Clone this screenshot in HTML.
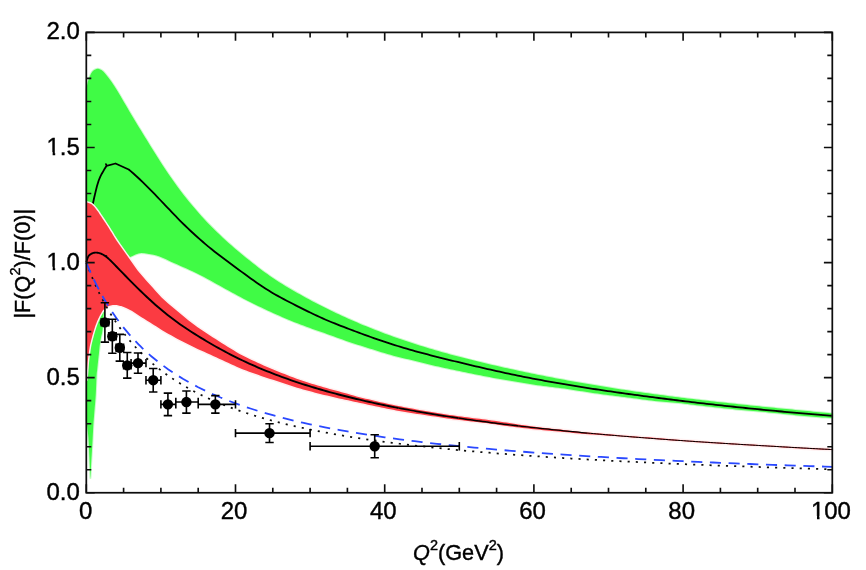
<!DOCTYPE html>
<html lang="en">
<head>
<meta charset="utf-8">
<title>Form factor plot</title>
<style>
html,body{margin:0;padding:0;background:#fff;}
body{width:866px;height:570px;overflow:hidden;}
svg{display:block;}
</style>
</head>
<body>
<svg width="866" height="570" viewBox="0 0 866 570">
<rect width="866" height="570" fill="#ffffff"/>
<defs><filter id="soft" x="0" y="0" width="866" height="570" filterUnits="userSpaceOnUse"><feGaussianBlur stdDeviation="0.45"/></filter></defs>
<g filter="url(#soft)">
<rect width="866" height="570" fill="#ffffff"/>
<path d="M86.3 88.9 L86.57 87.69 L86.83 86.44 L87.1 85.2 L87.37 83.99 L87.63 82.84 L87.9 81.8 L88.16 80.88 L88.41 80.06 L88.66 79.3 L88.91 78.58 L89.19 77.86 L89.5 77.1 L89.84 76.29 L90.21 75.45 L90.6 74.61 L91 73.8 L91.4 73.05 L91.8 72.4 L92.18 71.85 L92.55 71.39 L92.92 70.98 L93.31 70.63 L93.73 70.3 L94.2 70 L94.73 69.7 L95.31 69.42 L95.93 69.17 L96.56 68.98 L97.19 68.85 L97.8 68.8 L98.41 68.86 L99.03 69.01 L99.65 69.24 L100.25 69.5 L100.8 69.76 L101.3 70 L101.72 70.22 L102.08 70.45 L102.39 70.69 L102.69 70.93 L102.98 71.16 L103.3 71.4 L105.3 73.64 L108.3 77.4 L111.3 81.57 L114.3 86.09 L117.3 90.87 L120.3 95.85 L123.3 100.94 L126.3 106.08 L129.3 111.2 L132.3 116.24 L135.3 121.23 L138.3 126.16 L141.3 131.06 L144.3 135.94 L147.3 140.81 L150.3 145.67 L153.3 150.51 L156.3 155.31 L159.3 160.05 L162.3 164.71 L165.3 169.27 L168.3 173.73 L171.3 178.08 L174.3 182.32 L177.3 186.45 L180.3 190.48 L183.3 194.4 L186.3 198.22 L189.3 201.95 L192.3 205.58 L195.3 209.12 L198.3 212.57 L201.3 215.92 L204.3 219.2 L207.3 222.38 L210.3 225.49 L213.3 228.52 L216.3 231.48 L219.3 234.36 L222.3 237.19 L225.3 239.95 L228.3 242.66 L231.3 245.31 L234.3 247.91 L237.3 250.48 L240.3 253 L243.3 255.48 L246.3 257.94 L249.3 260.36 L252.3 262.76 L255.3 265.12 L258.3 267.44 L261.3 269.72 L264.3 271.95 L267.3 274.12 L270.3 276.23 L273.3 278.27 L276.3 280.26 L279.3 282.18 L282.3 284.06 L285.3 285.89 L288.3 287.68 L291.3 289.45 L294.3 291.18 L297.3 292.9 L300.3 294.59 L303.3 296.26 L306.3 297.91 L309.3 299.54 L312.3 301.14 L315.3 302.73 L318.3 304.29 L321.3 305.82 L324.3 307.34 L327.3 308.83 L330.3 310.31 L333.3 311.76 L336.3 313.19 L339.3 314.6 L342.3 315.98 L345.3 317.35 L348.3 318.7 L351.3 320.02 L354.3 321.33 L357.3 322.62 L360.3 323.89 L363.3 325.14 L366.3 326.37 L369.3 327.58 L372.3 328.78 L375.3 329.95 L378.3 331.11 L381.3 332.25 L384.3 333.38 L387.3 334.49 L390.3 335.58 L393.3 336.66 L396.3 337.72 L399.3 338.76 L402.3 339.79 L405.3 340.8 L408.3 341.8 L411.3 342.79 L414.3 343.76 L417.3 344.72 L420.3 345.66 L423.3 346.59 L426.3 347.51 L429.3 348.41 L432.3 349.3 L435.3 350.18 L438.3 351.05 L441.3 351.9 L444.3 352.75 L447.3 353.58 L450.3 354.4 L453.3 355.21 L456.3 356.01 L459.3 356.8 L462.3 357.58 L465.3 358.35 L468.3 359.12 L471.3 359.87 L474.3 360.61 L477.3 361.35 L480.3 362.08 L483.3 362.8 L486.3 363.51 L489.3 364.22 L492.3 364.92 L495.3 365.61 L498.3 366.29 L501.3 366.97 L504.3 367.64 L507.3 368.31 L510.3 368.97 L513.3 369.62 L516.3 370.27 L519.3 370.91 L522.3 371.55 L525.3 372.18 L528.3 372.8 L531.3 373.42 L534.3 374.03 L537.3 374.64 L540.3 375.24 L543.3 375.83 L546.3 376.42 L549.3 377.01 L552.3 377.58 L555.3 378.16 L558.3 378.72 L561.3 379.28 L564.3 379.84 L567.3 380.39 L570.3 380.94 L573.3 381.47 L576.3 382.01 L579.3 382.54 L582.3 383.06 L585.3 383.58 L588.3 384.09 L591.3 384.6 L594.3 385.1 L597.3 385.6 L600.3 386.1 L603.3 386.58 L606.3 387.07 L609.3 387.55 L612.3 388.02 L615.3 388.49 L618.3 388.95 L621.3 389.41 L624.3 389.87 L627.3 390.31 L630.3 390.76 L633.3 391.2 L636.3 391.64 L639.3 392.07 L642.3 392.5 L645.3 392.92 L648.3 393.34 L651.3 393.75 L654.3 394.16 L657.3 394.56 L660.3 394.97 L663.3 395.36 L666.3 395.76 L669.3 396.14 L672.3 396.53 L675.3 396.91 L678.3 397.29 L681.3 397.66 L684.3 398.03 L687.3 398.4 L690.3 398.76 L693.3 399.12 L696.3 399.47 L699.3 399.83 L702.3 400.18 L705.3 400.52 L708.3 400.87 L711.3 401.21 L714.3 401.55 L717.3 401.88 L720.3 402.21 L723.3 402.54 L726.3 402.87 L729.3 403.2 L732.3 403.52 L735.3 403.84 L738.3 404.16 L741.3 404.47 L744.3 404.79 L747.3 405.1 L750.3 405.41 L753.3 405.72 L756.3 406.03 L759.3 406.33 L762.3 406.64 L765.3 406.94 L768.3 407.24 L771.3 407.54 L774.3 407.84 L777.3 408.14 L780.3 408.43 L783.3 408.73 L786.3 409.03 L789.3 409.32 L792.3 409.61 L795.3 409.91 L798.3 410.2 L801.3 410.49 L804.3 410.78 L807.3 411.07 L810.3 411.36 L813.3 411.66 L816.3 411.95 L819.3 412.24 L822.3 412.53 L825.3 412.82 L828.3 413.11 L831.3 413.4 L832.3 413.5 L832.3 418 L831.5 417.96 L828.5 417.79 L825.5 417.61 L822.5 417.42 L819.5 417.21 L816.5 417 L813.5 416.77 L810.5 416.54 L807.5 416.3 L804.5 416.05 L801.5 415.77 L798.5 415.47 L795.5 415.16 L792.5 414.85 L789.5 414.53 L786.5 414.22 L783.5 413.92 L780.5 413.62 L777.5 413.31 L774.5 413 L771.5 412.7 L768.5 412.41 L765.5 412.12 L762.5 411.85 L759.5 411.59 L756.5 411.34 L753.5 411.09 L750.5 410.84 L747.5 410.59 L744.5 410.32 L741.5 410.04 L738.5 409.74 L735.5 409.43 L732.5 409.12 L729.5 408.8 L726.5 408.47 L723.5 408.15 L720.5 407.83 L717.5 407.51 L714.5 407.19 L711.5 406.86 L708.5 406.54 L705.5 406.21 L702.5 405.87 L699.5 405.53 L696.5 405.16 L693.5 404.79 L690.5 404.41 L687.5 404.04 L684.5 403.68 L681.5 403.35 L678.5 403.06 L675.5 402.79 L672.5 402.55 L669.5 402.31 L666.5 402.08 L663.5 401.83 L660.5 401.55 L657.5 401.23 L654.5 400.88 L651.5 400.51 L648.5 400.14 L645.5 399.76 L642.5 399.39 L639.5 399 L636.5 398.61 L633.5 398.22 L630.5 397.84 L627.5 397.45 L624.5 397.08 L621.5 396.71 L618.5 396.35 L615.5 395.99 L612.5 395.62 L609.5 395.25 L606.5 394.86 L603.5 394.45 L600.5 394.03 L597.5 393.6 L594.5 393.15 L591.5 392.7 L588.5 392.25 L585.5 391.8 L582.5 391.34 L579.5 390.88 L576.5 390.41 L573.5 389.93 L570.5 389.47 L567.5 389.01 L564.5 388.58 L561.5 388.17 L558.5 387.8 L555.5 387.44 L552.5 387.09 L549.5 386.74 L546.5 386.37 L543.5 385.99 L540.5 385.58 L537.5 385.14 L534.5 384.68 L531.5 384.2 L528.5 383.72 L525.5 383.23 L522.5 382.74 L519.5 382.26 L516.5 381.77 L513.5 381.28 L510.5 380.79 L507.5 380.29 L504.5 379.78 L501.5 379.26 L498.5 378.73 L495.5 378.19 L492.5 377.63 L489.5 377.07 L486.5 376.49 L483.5 375.91 L480.5 375.33 L477.5 374.74 L474.5 374.14 L471.5 373.54 L468.5 372.94 L465.5 372.33 L462.5 371.71 L459.5 371.08 L456.5 370.45 L453.5 369.82 L450.5 369.18 L447.5 368.54 L444.5 367.89 L441.5 367.24 L438.5 366.57 L435.5 365.9 L432.5 365.21 L429.5 364.5 L426.5 363.77 L423.5 363.04 L420.5 362.3 L417.5 361.56 L414.5 360.82 L411.5 360.09 L408.5 359.37 L405.5 358.65 L402.5 357.94 L399.5 357.21 L396.5 356.46 L393.5 355.68 L390.5 354.86 L387.5 354 L384.5 353.11 L381.5 352.19 L378.5 351.25 L375.5 350.31 L372.5 349.37 L369.5 348.43 L366.5 347.5 L363.5 346.56 L360.5 345.62 L357.5 344.66 L354.5 343.69 L351.5 342.7 L348.5 341.69 L345.5 340.65 L342.5 339.58 L339.5 338.5 L336.5 337.4 L333.5 336.3 L330.5 335.21 L327.5 334.13 L324.5 333.06 L321.5 332.02 L318.5 330.98 L315.5 329.94 L312.5 328.9 L309.5 327.84 L306.5 326.75 L303.5 325.62 L300.5 324.48 L297.5 323.32 L294.5 322.13 L291.5 320.93 L288.5 319.7 L285.5 318.45 L282.5 317.18 L279.5 315.87 L276.5 314.54 L273.5 313.19 L270.5 311.82 L267.5 310.42 L264.5 309.01 L261.5 307.59 L258.5 306.15 L255.5 304.68 L252.5 303.2 L249.5 301.69 L246.5 300.17 L243.5 298.63 L240.5 297.06 L237.5 295.46 L234.5 293.84 L231.5 292.2 L228.5 290.54 L225.5 288.89 L222.5 287.24 L219.5 285.58 L216.5 283.92 L213.5 282.27 L210.5 280.61 L207.5 278.95 L204.5 277.31 L201.5 275.72 L198.5 274.17 L195.5 272.67 L192.5 271.24 L189.5 269.88 L186.5 268.55 L183.5 267.23 L180.5 265.9 L177.5 264.58 L174.5 263.25 L171.5 261.9 L168.5 260.48 L165.5 259.06 L162.5 257.76 L159.5 256.57 L156.5 255.5 L153.5 254.73 L150.5 254.15 L147.5 253.71 L144.5 253.33 L141.5 253.1 L138.5 253.57 L135.5 254.6 L132.5 255.89 L129.5 257.34 L126.5 258.8 L126.5 258.8 L125.45 261.65 L124.43 264.47 L123.41 267.29 L122.35 270.13 L121.23 273.03 L120 276 L118.62 279.11 L117.09 282.36 L115.5 285.66 L113.91 288.92 L112.38 292.06 L111 295 L109.71 297.82 L108.44 300.61 L107.24 303.29 L106.15 305.75 L105.22 307.92 L104.5 309.7 L104.04 310.84 L103.83 311.37 L103.77 311.6 L103.79 311.85 L103.79 312.45 L103.7 313.7 L103.53 315.8 L103.34 318.53 L103.15 321.61 L102.94 324.73 L102.73 327.63 L102.5 330 L102.25 331.8 L101.98 333.26 L101.7 334.47 L101.42 335.58 L101.15 336.68 L100.9 337.9 L100.67 339.22 L100.46 340.53 L100.25 341.85 L100.06 343.17 L99.87 344.48 L99.7 345.8 L99.54 347.12 L99.41 348.43 L99.28 349.75 L99.16 351.07 L99.03 352.38 L98.9 353.7 L98.75 355.02 L98.6 356.33 L98.45 357.65 L98.3 358.97 L98.15 360.28 L98 361.6 L97.86 362.94 L97.72 364.32 L97.58 365.7 L97.45 367.04 L97.32 368.32 L97.2 369.5 L97.09 370.39 L97 370.97 L96.91 371.49 L96.81 372.18 L96.72 373.27 L96.6 375 L96.47 377.55 L96.33 380.78 L96.19 384.41 L96.03 388.17 L95.87 391.79 L95.7 395 L95.52 397.8 L95.32 400.41 L95.11 402.88 L94.9 405.26 L94.7 407.62 L94.5 410 L94.31 412.36 L94.12 414.63 L93.93 416.88 L93.75 419.15 L93.57 421.5 L93.4 424 L93.24 426.68 L93.09 429.52 L92.94 432.44 L92.79 435.37 L92.65 438.25 L92.5 441 L92.35 443.65 L92.19 446.26 L92.04 448.81 L91.89 451.3 L91.74 453.7 L91.6 456 L91.47 458.2 L91.34 460.3 L91.22 462.31 L91.11 464.26 L91 466.15 L90.9 468 L90.81 470.01 L90.72 472.22 L90.64 474.38 L90.56 476.22 L90.48 477.51 L90.4 478 L90.32 477.53 L90.24 476.26 L90.16 474.44 L90.07 472.3 L89.99 470.07 L89.9 468 L89.81 466.03 L89.71 463.96 L89.61 461.81 L89.51 459.59 L89.41 457.32 L89.3 455 L89.19 452.58 L89.09 450.04 L88.99 447.44 L88.87 444.85 L88.75 442.35 L88.6 440 L88.43 437.77 L88.23 435.59 L88.03 433.5 L87.81 431.52 L87.6 429.68 L87.4 428 L87.21 426.54 L87.03 425.3 L86.84 424.19 L86.66 423.15 L86.48 422.11 L86.3 421 Z" fill="#40fb44" stroke="#c9fdca" stroke-width="2.0" stroke-linejoin="round"/>
<path d="M86.3 88.9 L86.57 87.69 L86.83 86.44 L87.1 85.2 L87.37 83.99 L87.63 82.84 L87.9 81.8 L88.16 80.88 L88.41 80.06 L88.66 79.3 L88.91 78.58 L89.19 77.86 L89.5 77.1 L89.84 76.29 L90.21 75.45 L90.6 74.61 L91 73.8 L91.4 73.05 L91.8 72.4 L92.18 71.85 L92.55 71.39 L92.92 70.98 L93.31 70.63 L93.73 70.3 L94.2 70 L94.73 69.7 L95.31 69.42 L95.93 69.17 L96.56 68.98 L97.19 68.85 L97.8 68.8 L98.41 68.86 L99.03 69.01 L99.65 69.24 L100.25 69.5 L100.8 69.76 L101.3 70 L101.72 70.22 L102.08 70.45 L102.39 70.69 L102.69 70.93 L102.98 71.16 L103.3 71.4 L105.3 73.64 L108.3 77.4 L111.3 81.57 L114.3 86.09 L117.3 90.87 L120.3 95.85 L123.3 100.94 L126.3 106.08 L129.3 111.2 L132.3 116.24 L135.3 121.23 L138.3 126.16 L141.3 131.06 L144.3 135.94 L147.3 140.81 L150.3 145.67 L153.3 150.51 L156.3 155.31 L159.3 160.05 L162.3 164.71 L165.3 169.27 L168.3 173.73 L171.3 178.08 L174.3 182.32 L177.3 186.45 L180.3 190.48 L183.3 194.4 L186.3 198.22 L189.3 201.95 L192.3 205.58 L195.3 209.12 L198.3 212.57 L201.3 215.92 L204.3 219.2 L207.3 222.38 L210.3 225.49 L213.3 228.52 L216.3 231.48 L219.3 234.36 L222.3 237.19 L225.3 239.95 L228.3 242.66 L231.3 245.31 L234.3 247.91 L237.3 250.48 L240.3 253 L243.3 255.48 L246.3 257.94 L249.3 260.36 L252.3 262.76 L255.3 265.12 L258.3 267.44 L261.3 269.72 L264.3 271.95 L267.3 274.12 L270.3 276.23 L273.3 278.27 L276.3 280.26 L279.3 282.18 L282.3 284.06 L285.3 285.89 L288.3 287.68 L291.3 289.45 L294.3 291.18 L297.3 292.9 L300.3 294.59 L303.3 296.26 L306.3 297.91 L309.3 299.54 L312.3 301.14 L315.3 302.73 L318.3 304.29 L321.3 305.82 L324.3 307.34 L327.3 308.83 L330.3 310.31 L333.3 311.76 L336.3 313.19 L339.3 314.6 L342.3 315.98 L345.3 317.35 L348.3 318.7 L351.3 320.02 L354.3 321.33 L357.3 322.62 L360.3 323.89 L363.3 325.14 L366.3 326.37 L369.3 327.58 L372.3 328.78 L375.3 329.95 L378.3 331.11 L381.3 332.25 L384.3 333.38 L387.3 334.49 L390.3 335.58 L393.3 336.66 L396.3 337.72 L399.3 338.76 L402.3 339.79 L405.3 340.8 L408.3 341.8 L411.3 342.79 L414.3 343.76 L417.3 344.72 L420.3 345.66 L423.3 346.59 L426.3 347.51 L429.3 348.41 L432.3 349.3 L435.3 350.18 L438.3 351.05 L441.3 351.9 L444.3 352.75 L447.3 353.58 L450.3 354.4 L453.3 355.21 L456.3 356.01 L459.3 356.8 L462.3 357.58 L465.3 358.35 L468.3 359.12 L471.3 359.87 L474.3 360.61 L477.3 361.35 L480.3 362.08 L483.3 362.8 L486.3 363.51 L489.3 364.22 L492.3 364.92 L495.3 365.61 L498.3 366.29 L501.3 366.97 L504.3 367.64 L507.3 368.31 L510.3 368.97 L513.3 369.62 L516.3 370.27 L519.3 370.91 L522.3 371.55 L525.3 372.18 L528.3 372.8 L531.3 373.42 L534.3 374.03 L537.3 374.64 L540.3 375.24 L543.3 375.83 L546.3 376.42 L549.3 377.01 L552.3 377.58 L555.3 378.16 L558.3 378.72 L561.3 379.28 L564.3 379.84 L567.3 380.39 L570.3 380.94 L573.3 381.47 L576.3 382.01 L579.3 382.54 L582.3 383.06 L585.3 383.58 L588.3 384.09 L591.3 384.6 L594.3 385.1 L597.3 385.6 L600.3 386.1 L603.3 386.58 L606.3 387.07 L609.3 387.55 L612.3 388.02 L615.3 388.49 L618.3 388.95 L621.3 389.41 L624.3 389.87 L627.3 390.31 L630.3 390.76 L633.3 391.2 L636.3 391.64 L639.3 392.07 L642.3 392.5 L645.3 392.92 L648.3 393.34 L651.3 393.75 L654.3 394.16 L657.3 394.56 L660.3 394.97 L663.3 395.36 L666.3 395.76 L669.3 396.14 L672.3 396.53 L675.3 396.91 L678.3 397.29 L681.3 397.66 L684.3 398.03 L687.3 398.4 L690.3 398.76 L693.3 399.12 L696.3 399.47 L699.3 399.83 L702.3 400.18 L705.3 400.52 L708.3 400.87 L711.3 401.21 L714.3 401.55 L717.3 401.88 L720.3 402.21 L723.3 402.54 L726.3 402.87 L729.3 403.2 L732.3 403.52 L735.3 403.84 L738.3 404.16 L741.3 404.47 L744.3 404.79 L747.3 405.1 L750.3 405.41 L753.3 405.72 L756.3 406.03 L759.3 406.33 L762.3 406.64 L765.3 406.94 L768.3 407.24 L771.3 407.54 L774.3 407.84 L777.3 408.14 L780.3 408.43 L783.3 408.73 L786.3 409.03 L789.3 409.32 L792.3 409.61 L795.3 409.91 L798.3 410.2 L801.3 410.49 L804.3 410.78 L807.3 411.07 L810.3 411.36 L813.3 411.66 L816.3 411.95 L819.3 412.24 L822.3 412.53 L825.3 412.82 L828.3 413.11 L831.3 413.4 L832.3 413.5 L832.3 418 L831.5 417.96 L828.5 417.79 L825.5 417.61 L822.5 417.42 L819.5 417.21 L816.5 417 L813.5 416.77 L810.5 416.54 L807.5 416.3 L804.5 416.05 L801.5 415.77 L798.5 415.47 L795.5 415.16 L792.5 414.85 L789.5 414.53 L786.5 414.22 L783.5 413.92 L780.5 413.62 L777.5 413.31 L774.5 413 L771.5 412.7 L768.5 412.41 L765.5 412.12 L762.5 411.85 L759.5 411.59 L756.5 411.34 L753.5 411.09 L750.5 410.84 L747.5 410.59 L744.5 410.32 L741.5 410.04 L738.5 409.74 L735.5 409.43 L732.5 409.12 L729.5 408.8 L726.5 408.47 L723.5 408.15 L720.5 407.83 L717.5 407.51 L714.5 407.19 L711.5 406.86 L708.5 406.54 L705.5 406.21 L702.5 405.87 L699.5 405.53 L696.5 405.16 L693.5 404.79 L690.5 404.41 L687.5 404.04 L684.5 403.68 L681.5 403.35 L678.5 403.06 L675.5 402.79 L672.5 402.55 L669.5 402.31 L666.5 402.08 L663.5 401.83 L660.5 401.55 L657.5 401.23 L654.5 400.88 L651.5 400.51 L648.5 400.14 L645.5 399.76 L642.5 399.39 L639.5 399 L636.5 398.61 L633.5 398.22 L630.5 397.84 L627.5 397.45 L624.5 397.08 L621.5 396.71 L618.5 396.35 L615.5 395.99 L612.5 395.62 L609.5 395.25 L606.5 394.86 L603.5 394.45 L600.5 394.03 L597.5 393.6 L594.5 393.15 L591.5 392.7 L588.5 392.25 L585.5 391.8 L582.5 391.34 L579.5 390.88 L576.5 390.41 L573.5 389.93 L570.5 389.47 L567.5 389.01 L564.5 388.58 L561.5 388.17 L558.5 387.8 L555.5 387.44 L552.5 387.09 L549.5 386.74 L546.5 386.37 L543.5 385.99 L540.5 385.58 L537.5 385.14 L534.5 384.68 L531.5 384.2 L528.5 383.72 L525.5 383.23 L522.5 382.74 L519.5 382.26 L516.5 381.77 L513.5 381.28 L510.5 380.79 L507.5 380.29 L504.5 379.78 L501.5 379.26 L498.5 378.73 L495.5 378.19 L492.5 377.63 L489.5 377.07 L486.5 376.49 L483.5 375.91 L480.5 375.33 L477.5 374.74 L474.5 374.14 L471.5 373.54 L468.5 372.94 L465.5 372.33 L462.5 371.71 L459.5 371.08 L456.5 370.45 L453.5 369.82 L450.5 369.18 L447.5 368.54 L444.5 367.89 L441.5 367.24 L438.5 366.57 L435.5 365.9 L432.5 365.21 L429.5 364.5 L426.5 363.77 L423.5 363.04 L420.5 362.3 L417.5 361.56 L414.5 360.82 L411.5 360.09 L408.5 359.37 L405.5 358.65 L402.5 357.94 L399.5 357.21 L396.5 356.46 L393.5 355.68 L390.5 354.86 L387.5 354 L384.5 353.11 L381.5 352.19 L378.5 351.25 L375.5 350.31 L372.5 349.37 L369.5 348.43 L366.5 347.5 L363.5 346.56 L360.5 345.62 L357.5 344.66 L354.5 343.69 L351.5 342.7 L348.5 341.69 L345.5 340.65 L342.5 339.58 L339.5 338.5 L336.5 337.4 L333.5 336.3 L330.5 335.21 L327.5 334.13 L324.5 333.06 L321.5 332.02 L318.5 330.98 L315.5 329.94 L312.5 328.9 L309.5 327.84 L306.5 326.75 L303.5 325.62 L300.5 324.48 L297.5 323.32 L294.5 322.13 L291.5 320.93 L288.5 319.7 L285.5 318.45 L282.5 317.18 L279.5 315.87 L276.5 314.54 L273.5 313.19 L270.5 311.82 L267.5 310.42 L264.5 309.01 L261.5 307.59 L258.5 306.15 L255.5 304.68 L252.5 303.2 L249.5 301.69 L246.5 300.17 L243.5 298.63 L240.5 297.06 L237.5 295.46 L234.5 293.84 L231.5 292.2 L228.5 290.54 L225.5 288.89 L222.5 287.24 L219.5 285.58 L216.5 283.92 L213.5 282.27 L210.5 280.61 L207.5 278.95 L204.5 277.31 L201.5 275.72 L198.5 274.17 L195.5 272.67 L192.5 271.24 L189.5 269.88 L186.5 268.55 L183.5 267.23 L180.5 265.9 L177.5 264.58 L174.5 263.25 L171.5 261.9 L168.5 260.48 L165.5 259.06 L162.5 257.76 L159.5 256.57 L156.5 255.5 L153.5 254.73 L150.5 254.15 L147.5 253.71 L144.5 253.33 L141.5 253.1 L138.5 253.57 L135.5 254.6 L132.5 255.89 L129.5 257.34 L126.5 258.8 L126.5 258.8 L125.45 261.65 L124.43 264.47 L123.41 267.29 L122.35 270.13 L121.23 273.03 L120 276 L118.62 279.11 L117.09 282.36 L115.5 285.66 L113.91 288.92 L112.38 292.06 L111 295 L109.71 297.82 L108.44 300.61 L107.24 303.29 L106.15 305.75 L105.22 307.92 L104.5 309.7 L104.04 310.84 L103.83 311.37 L103.77 311.6 L103.79 311.85 L103.79 312.45 L103.7 313.7 L103.53 315.8 L103.34 318.53 L103.15 321.61 L102.94 324.73 L102.73 327.63 L102.5 330 L102.25 331.8 L101.98 333.26 L101.7 334.47 L101.42 335.58 L101.15 336.68 L100.9 337.9 L100.67 339.22 L100.46 340.53 L100.25 341.85 L100.06 343.17 L99.87 344.48 L99.7 345.8 L99.54 347.12 L99.41 348.43 L99.28 349.75 L99.16 351.07 L99.03 352.38 L98.9 353.7 L98.75 355.02 L98.6 356.33 L98.45 357.65 L98.3 358.97 L98.15 360.28 L98 361.6 L97.86 362.94 L97.72 364.32 L97.58 365.7 L97.45 367.04 L97.32 368.32 L97.2 369.5 L97.09 370.39 L97 370.97 L96.91 371.49 L96.81 372.18 L96.72 373.27 L96.6 375 L96.47 377.55 L96.33 380.78 L96.19 384.41 L96.03 388.17 L95.87 391.79 L95.7 395 L95.52 397.8 L95.32 400.41 L95.11 402.88 L94.9 405.26 L94.7 407.62 L94.5 410 L94.31 412.36 L94.12 414.63 L93.93 416.88 L93.75 419.15 L93.57 421.5 L93.4 424 L93.24 426.68 L93.09 429.52 L92.94 432.44 L92.79 435.37 L92.65 438.25 L92.5 441 L92.35 443.65 L92.19 446.26 L92.04 448.81 L91.89 451.3 L91.74 453.7 L91.6 456 L91.47 458.2 L91.34 460.3 L91.22 462.31 L91.11 464.26 L91 466.15 L90.9 468 L90.81 470.01 L90.72 472.22 L90.64 474.38 L90.56 476.22 L90.48 477.51 L90.4 478 L90.32 477.53 L90.24 476.26 L90.16 474.44 L90.07 472.3 L89.99 470.07 L89.9 468 L89.81 466.03 L89.71 463.96 L89.61 461.81 L89.51 459.59 L89.41 457.32 L89.3 455 L89.19 452.58 L89.09 450.04 L88.99 447.44 L88.87 444.85 L88.75 442.35 L88.6 440 L88.43 437.77 L88.23 435.59 L88.03 433.5 L87.81 431.52 L87.6 429.68 L87.4 428 L87.21 426.54 L87.03 425.3 L86.84 424.19 L86.66 423.15 L86.48 422.11 L86.3 421 Z" fill="#40fb44"/>
<path d="M92.9 203.7 L94.1 198 L95.5 192.1 L97 186 L98.7 180.5 L100.2 176.8 L101.8 173.7 L104.2 169.6 L106.6 165.8 L106 164.2 L106.6 165.8 L115.5 163.5 L128.7 169.5 L130.7 171.17 L133.7 173.78 L136.7 176.48 L139.7 179.27 L142.7 182.14 L145.7 185.09 L148.7 188.09 L151.7 191.14 L154.7 194.23 L157.7 197.36 L160.7 200.5 L163.7 203.66 L166.7 206.82 L169.7 209.97 L172.7 213.1 L175.7 216.2 L178.7 219.26 L181.7 222.28 L184.7 225.24 L187.7 228.15 L190.7 230.99 L193.7 233.78 L196.7 236.51 L199.7 239.18 L202.7 241.79 L205.7 244.35 L208.7 246.85 L211.7 249.3 L214.7 251.69 L217.7 254.02 L220.7 256.31 L223.7 258.56 L226.7 260.79 L229.7 263 L232.7 265.21 L235.7 267.44 L238.7 269.66 L241.7 271.87 L244.7 274.08 L247.7 276.27 L250.7 278.43 L253.7 280.57 L256.7 282.67 L259.7 284.73 L262.7 286.74 L265.7 288.69 L268.7 290.58 L271.7 292.41 L274.7 294.17 L277.7 295.87 L280.7 297.52 L283.7 299.13 L286.7 300.7 L289.7 302.25 L292.7 303.79 L295.7 305.33 L298.7 306.85 L301.7 308.36 L304.7 309.86 L307.7 311.34 L310.7 312.8 L313.7 314.24 L316.7 315.65 L319.7 317.04 L322.7 318.39 L325.7 319.7 L328.7 320.98 L331.7 322.23 L334.7 323.44 L337.7 324.63 L340.7 325.8 L343.7 326.96 L346.7 328.1 L349.7 329.24 L352.7 330.37 L355.7 331.49 L358.7 332.61 L361.7 333.72 L364.7 334.82 L367.7 335.91 L370.7 336.98 L373.7 338.05 L376.7 339.1 L379.7 340.14 L382.7 341.16 L385.7 342.17 L388.7 343.15 L391.7 344.12 L394.7 345.08 L397.7 346.01 L400.7 346.92 L403.7 347.82 L406.7 348.7 L409.7 349.57 L412.7 350.42 L415.7 351.26 L418.7 352.09 L421.7 352.9 L424.7 353.7 L427.7 354.49 L430.7 355.27 L433.7 356.04 L436.7 356.8 L439.7 357.56 L442.7 358.31 L445.7 359.05 L448.7 359.79 L451.7 360.52 L454.7 361.25 L457.7 361.98 L460.7 362.7 L463.7 363.42 L466.7 364.13 L469.7 364.85 L472.7 365.56 L475.7 366.26 L478.7 366.96 L481.7 367.66 L484.7 368.35 L487.7 369.03 L490.7 369.71 L493.7 370.39 L496.7 371.06 L499.7 371.72 L502.7 372.38 L505.7 373.03 L508.7 373.67 L511.7 374.31 L514.7 374.93 L517.7 375.55 L520.7 376.17 L523.7 376.77 L526.7 377.37 L529.7 377.96 L532.7 378.54 L535.7 379.11 L538.7 379.68 L541.7 380.24 L544.7 380.79 L547.7 381.34 L550.7 381.88 L553.7 382.41 L556.7 382.94 L559.7 383.46 L562.7 383.97 L565.7 384.48 L568.7 384.98 L571.7 385.47 L574.7 385.96 L577.7 386.45 L580.7 386.93 L583.7 387.4 L586.7 387.87 L589.7 388.33 L592.7 388.79 L595.7 389.25 L598.7 389.7 L601.7 390.15 L604.7 390.59 L607.7 391.03 L610.7 391.46 L613.7 391.89 L616.7 392.32 L619.7 392.75 L622.7 393.17 L625.7 393.58 L628.7 394 L631.7 394.41 L634.7 394.82 L637.7 395.23 L640.7 395.63 L643.7 396.03 L646.7 396.43 L649.7 396.82 L652.7 397.22 L655.7 397.61 L658.7 397.99 L661.7 398.38 L664.7 398.76 L667.7 399.14 L670.7 399.51 L673.7 399.88 L676.7 400.25 L679.7 400.62 L682.7 400.99 L685.7 401.35 L688.7 401.71 L691.7 402.06 L694.7 402.42 L697.7 402.77 L700.7 403.11 L703.7 403.46 L706.7 403.8 L709.7 404.14 L712.7 404.48 L715.7 404.81 L718.7 405.15 L721.7 405.47 L724.7 405.8 L727.7 406.12 L730.7 406.45 L733.7 406.76 L736.7 407.08 L739.7 407.39 L742.7 407.7 L745.7 408.01 L748.7 408.32 L751.7 408.62 L754.7 408.92 L757.7 409.22 L760.7 409.51 L763.7 409.8 L766.7 410.09 L769.7 410.38 L772.7 410.67 L775.7 410.95 L778.7 411.23 L781.7 411.51 L784.7 411.78 L787.7 412.05 L790.7 412.32 L793.7 412.59 L796.7 412.85 L799.7 413.11 L802.7 413.37 L805.7 413.63 L808.7 413.88 L811.7 414.14 L814.7 414.39 L817.7 414.63 L820.7 414.88 L823.7 415.12 L826.7 415.36 L829.7 415.6 L831.8 415.76" fill="none" stroke="#000" stroke-width="1.8" stroke-linejoin="round"/>
<path d="M86.3 202.4 L87.01 202.6 L87.74 202.79 L88.46 202.97 L89.17 203.17 L89.86 203.41 L90.5 203.7 L91.08 204.03 L91.6 204.37 L92.1 204.75 L92.6 205.19 L93.12 205.7 L93.7 206.3 L94.34 207.02 L95.03 207.83 L95.74 208.72 L96.46 209.66 L97.19 210.63 L97.9 211.6 L98.6 212.59 L99.3 213.63 L100 214.69 L100.7 215.76 L101.4 216.84 L102.1 217.9 L102.79 218.93 L103.46 219.92 L104.13 220.92 L104.82 221.94 L105.54 223.03 L106.3 224.2 L107.12 225.48 L107.99 226.84 L108.88 228.27 L109.79 229.72 L110.7 231.18 L111.6 232.6 L113.6 235.92 L116.6 240.64 L119.6 245.07 L122.6 249.35 L125.6 253.52 L128.6 257.66 L131.6 261.94 L134.6 266.28 L137.6 270.39 L140.6 274.12 L143.6 277.61 L146.6 281 L149.6 284.31 L152.6 287.61 L155.6 290.89 L158.6 294.14 L161.6 297.39 L164.6 300.37 L167.6 302.94 L170.6 305.38 L173.6 307.92 L176.6 310.48 L179.6 313.02 L182.6 315.53 L185.6 317.98 L188.6 320.39 L191.6 322.75 L194.6 325.01 L197.6 327.14 L200.6 329.17 L203.6 331.17 L206.6 333.17 L209.6 335.16 L212.6 337.14 L215.6 339.1 L218.6 341.06 L221.6 342.97 L224.6 344.83 L227.6 346.64 L230.6 348.46 L233.6 350.32 L236.6 352.2 L239.6 353.98 L242.6 355.57 L245.6 357.05 L248.6 358.48 L251.6 359.91 L254.6 361.33 L257.6 362.72 L260.6 364.07 L263.6 365.38 L266.6 366.66 L269.6 367.93 L272.6 369.19 L275.6 370.45 L278.6 371.68 L281.6 372.9 L284.6 374.09 L287.6 375.27 L290.6 376.43 L293.6 377.57 L296.6 378.69 L299.6 379.76 L302.6 380.78 L305.6 381.76 L308.6 382.71 L311.6 383.65 L314.6 384.58 L317.6 385.49 L320.6 386.37 L323.6 387.23 L326.6 388.06 L329.6 388.89 L332.6 389.71 L335.6 390.51 L338.6 391.32 L341.6 392.14 L344.6 393 L347.6 393.86 L350.6 394.73 L353.6 395.58 L356.6 396.4 L359.6 397.18 L362.6 397.93 L365.6 398.66 L368.6 399.36 L371.6 400.06 L374.6 400.75 L377.6 401.44 L380.6 402.13 L383.6 402.81 L386.6 403.49 L389.6 404.15 L392.6 404.8 L395.6 405.42 L398.6 406.02 L401.6 406.61 L404.6 407.18 L407.6 407.74 L410.6 408.29 L413.6 408.84 L416.6 409.4 L419.6 409.95 L422.6 410.49 L425.6 411.03 L428.6 411.55 L431.6 412.07 L434.6 412.56 L437.6 413.05 L440.6 413.53 L443.6 414 L446.6 414.46 L449.6 414.91 L452.6 415.34 L455.6 415.77 L458.6 416.18 L461.6 416.58 L464.6 416.98 L467.6 417.37 L470.6 417.75 L473.6 418.13 L476.6 418.5 L479.6 418.86 L482.6 419.22 L485.6 419.6 L488.6 419.99 L491.6 420.4 L494.6 420.82 L497.6 421.25 L500.6 421.69 L503.6 422.14 L506.6 422.61 L509.6 423.09 L512.6 423.57 L515.6 424.04 L518.6 424.49 L521.6 424.92 L524.6 425.34 L527.6 425.74 L530.6 426.14 L533.6 426.53 L536.6 426.9 L539.6 427.27 L542.6 427.63 L545.6 427.97 L548.6 428.31 L551.6 428.63 L554.6 428.95 L557.6 429.27 L560.6 429.59 L563.6 429.92 L566.6 430.27 L569.6 430.63 L572.6 430.99 L575.6 431.35 L578.6 431.69 L581.6 432.02 L584.6 432.32 L587.6 432.59 L590.6 432.85 L593.6 433.1 L596.6 433.34 L599.6 433.58 L602.6 433.82 L605.6 434.07 L608.6 434.32 L611.6 434.59 L614.6 434.86 L617.6 435.12 L620.6 435.38 L623.6 435.63 L626.6 435.87 L629.6 436.1 L632.6 436.31 L635.6 436.52 L638.6 436.73 L641.6 436.93 L644.6 437.14 L647.6 437.37 L650.6 437.59 L653.6 437.83 L656.6 438.08 L659.6 438.32 L662.6 438.57 L665.6 438.82 L668.6 439.07 L671.6 439.31 L674.6 439.55 L677.6 439.78 L680.6 440 L683.6 440.22 L686.6 440.43 L689.6 440.64 L692.6 440.85 L695.6 441.05 L698.6 441.26 L701.6 441.45 L704.6 441.65 L707.6 441.85 L710.6 442.04 L713.6 442.23 L716.6 442.42 L719.6 442.61 L722.6 442.8 L725.6 442.99 L728.6 443.17 L731.6 443.36 L734.6 443.54 L737.6 443.72 L740.6 443.89 L743.6 444.07 L746.6 444.25 L749.6 444.42 L752.6 444.6 L755.6 444.77 L758.6 444.95 L761.6 445.13 L764.6 445.3 L767.6 445.48 L770.6 445.66 L773.6 445.85 L776.6 446.03 L779.6 446.21 L782.6 446.4 L785.6 446.58 L788.6 446.76 L791.6 446.94 L794.6 447.12 L797.6 447.29 L800.6 447.46 L803.6 447.63 L806.6 447.8 L809.6 447.96 L812.6 448.12 L815.6 448.27 L818.6 448.42 L821.6 448.57 L824.6 448.72 L827.6 448.87 L830.6 449.01 L832.3 449.09 L832.3 450.11 L831.1 450.05 L828.1 449.91 L825.1 449.77 L822.1 449.63 L819.1 449.48 L816.1 449.33 L813.1 449.18 L810.1 449.02 L807.1 448.86 L804.1 448.7 L801.1 448.53 L798.1 448.36 L795.1 448.19 L792.1 448.01 L789.1 447.83 L786.1 447.65 L783.1 447.47 L780.1 447.28 L777.1 447.1 L774.1 446.92 L771.1 446.73 L768.1 446.55 L765.1 446.37 L762.1 446.2 L759.1 446.02 L756.1 445.84 L753.1 445.67 L750.1 445.5 L747.1 445.32 L744.1 445.15 L741.1 444.97 L738.1 444.8 L735.1 444.62 L732.1 444.44 L729.1 444.26 L726.1 444.08 L723.1 443.89 L720.1 443.7 L717.1 443.52 L714.1 443.33 L711.1 443.14 L708.1 442.95 L705.1 442.75 L702.1 442.56 L699.1 442.36 L696.1 442.16 L693.1 441.96 L690.1 441.75 L687.1 441.55 L684.1 441.33 L681.1 441.12 L678.1 440.9 L675.1 440.67 L672.1 440.44 L669.1 440.2 L666.1 439.95 L663.1 439.7 L660.1 439.46 L657.1 439.21 L654.1 438.97 L651.1 438.73 L648.1 438.5 L645.1 438.28 L642.1 438.06 L639.1 437.85 L636.1 437.64 L633.1 437.43 L630.1 437.22 L627.1 437.01 L624.1 436.79 L621.1 436.56 L618.1 436.33 L615.1 436.1 L612.1 435.87 L609.1 435.64 L606.1 435.42 L603.1 435.21 L600.1 435.01 L597.1 434.81 L594.1 434.62 L591.1 434.42 L588.1 434.21 L585.1 433.99 L582.1 433.75 L579.1 433.48 L576.1 433.19 L573.1 432.89 L570.1 432.59 L567.1 432.29 L564.1 432 L561.1 431.73 L558.1 431.46 L555.1 431.2 L552.1 430.94 L549.1 430.68 L546.1 430.41 L543.1 430.13 L540.1 429.83 L537.1 429.53 L534.1 429.22 L531.1 428.9 L528.1 428.57 L525.1 428.23 L522.1 427.89 L519.1 427.54 L516.1 427.18 L513.1 426.81 L510.1 426.44 L507.1 426.05 L504.1 425.66 L501.1 425.25 L498.1 424.83 L495.1 424.37 L492.1 423.9 L489.1 423.46 L486.1 423.07 L483.1 422.72 L480.1 422.38 L477.1 422.06 L474.1 421.73 L471.1 421.4 L468.1 421.05 L465.1 420.69 L462.1 420.32 L459.1 419.96 L456.1 419.58 L453.1 419.19 L450.1 418.79 L447.1 418.38 L444.1 417.94 L441.1 417.5 L438.1 417.05 L435.1 416.6 L432.1 416.16 L429.1 415.71 L426.1 415.27 L423.1 414.82 L420.1 414.36 L417.1 413.9 L414.1 413.43 L411.1 412.95 L408.1 412.47 L405.1 411.97 L402.1 411.46 L399.1 410.95 L396.1 410.41 L393.1 409.85 L390.1 409.28 L387.1 408.68 L384.1 408.07 L381.1 407.45 L378.1 406.83 L375.1 406.2 L372.1 405.56 L369.1 404.91 L366.1 404.26 L363.1 403.6 L360.1 402.95 L357.1 402.3 L354.1 401.65 L351.1 401.01 L348.1 400.37 L345.1 399.72 L342.1 399.07 L339.1 398.4 L336.1 397.72 L333.1 397.02 L330.1 396.32 L327.1 395.62 L324.1 394.9 L321.1 394.17 L318.1 393.42 L315.1 392.65 L312.1 391.86 L309.1 391.06 L306.1 390.24 L303.1 389.4 L300.1 388.53 L297.1 387.63 L294.1 386.7 L291.1 385.75 L288.1 384.78 L285.1 383.77 L282.1 382.75 L279.1 381.76 L276.1 380.8 L273.1 379.85 L270.1 378.88 L267.1 377.89 L264.1 376.89 L261.1 375.88 L258.1 374.85 L255.1 373.81 L252.1 372.76 L249.1 371.67 L246.1 370.57 L243.1 369.44 L240.1 368.24 L237.1 366.92 L234.1 365.52 L231.1 364.13 L228.1 362.78 L225.1 361.44 L222.1 360.1 L219.1 358.73 L216.1 357.34 L213.1 355.96 L210.1 354.57 L207.1 353.19 L204.1 351.82 L201.1 350.49 L198.1 349.16 L195.1 347.78 L192.1 346.3 L189.1 344.77 L186.1 343.24 L183.1 341.8 L180.1 340.35 L177.1 338.73 L174.1 337.02 L171.1 335.36 L168.1 333.71 L165.1 332.01 L162.1 330.23 L159.1 328.33 L156.1 326.37 L153.1 324.42 L150.1 322.53 L147.1 320.69 L144.1 318.85 L141.1 316.96 L138.1 314.92 L135.1 312.9 L132.1 311.07 L129.1 309.52 L126.1 308.1 L123.1 306.84 L121.1 306.1 L120.22 305.9 L119.36 305.67 L118.49 305.44 L117.62 305.23 L116.72 305.08 L115.8 305 L114.84 304.98 L113.84 305 L112.82 305.07 L111.8 305.21 L110.78 305.41 L109.8 305.7 L108.82 306.08 L107.82 306.56 L106.83 307.1 L105.88 307.7 L105 308.34 L104.2 309 L103.52 309.67 L102.95 310.34 L102.44 311.06 L101.96 311.84 L101.46 312.72 L100.9 313.7 L100.27 314.83 L99.6 316.1 L98.92 317.45 L98.24 318.85 L97.59 320.25 L97 321.6 L96.47 322.91 L95.97 324.21 L95.51 325.52 L95.06 326.83 L94.63 328.15 L94.2 329.5 L93.77 330.88 L93.35 332.28 L92.94 333.7 L92.55 335.12 L92.17 336.52 L91.8 337.9 L91.45 339.25 L91.1 340.57 L90.78 341.88 L90.46 343.19 L90.17 344.49 L89.9 345.8 L89.66 347.12 L89.44 348.43 L89.24 349.75 L89.06 351.07 L88.88 352.38 L88.7 353.7 L88.52 355.02 L88.34 356.33 L88.16 357.65 L88 358.97 L87.84 360.28 L87.7 361.6 L87.58 362.89 L87.48 364.14 L87.39 365.39 L87.3 366.67 L87.21 368.03 L87.1 369.5 L86.98 371.1 L86.85 372.81 L86.71 374.59 L86.57 376.4 L86.44 378.22 L86.3 380 Z" fill="#fb3a42" stroke="#fff1f1" stroke-width="2.9" stroke-linejoin="round"/>
<path d="M86.3 202.4 L87.01 202.6 L87.74 202.79 L88.46 202.97 L89.17 203.17 L89.86 203.41 L90.5 203.7 L91.08 204.03 L91.6 204.37 L92.1 204.75 L92.6 205.19 L93.12 205.7 L93.7 206.3 L94.34 207.02 L95.03 207.83 L95.74 208.72 L96.46 209.66 L97.19 210.63 L97.9 211.6 L98.6 212.59 L99.3 213.63 L100 214.69 L100.7 215.76 L101.4 216.84 L102.1 217.9 L102.79 218.93 L103.46 219.92 L104.13 220.92 L104.82 221.94 L105.54 223.03 L106.3 224.2 L107.12 225.48 L107.99 226.84 L108.88 228.27 L109.79 229.72 L110.7 231.18 L111.6 232.6 L113.6 235.92 L116.6 240.64 L119.6 245.07 L122.6 249.35 L125.6 253.52 L128.6 257.66 L131.6 261.94 L134.6 266.28 L137.6 270.39 L140.6 274.12 L143.6 277.61 L146.6 281 L149.6 284.31 L152.6 287.61 L155.6 290.89 L158.6 294.14 L161.6 297.39 L164.6 300.37 L167.6 302.94 L170.6 305.38 L173.6 307.92 L176.6 310.48 L179.6 313.02 L182.6 315.53 L185.6 317.98 L188.6 320.39 L191.6 322.75 L194.6 325.01 L197.6 327.14 L200.6 329.17 L203.6 331.17 L206.6 333.17 L209.6 335.16 L212.6 337.14 L215.6 339.1 L218.6 341.06 L221.6 342.97 L224.6 344.83 L227.6 346.64 L230.6 348.46 L233.6 350.32 L236.6 352.2 L239.6 353.98 L242.6 355.57 L245.6 357.05 L248.6 358.48 L251.6 359.91 L254.6 361.33 L257.6 362.72 L260.6 364.07 L263.6 365.38 L266.6 366.66 L269.6 367.93 L272.6 369.19 L275.6 370.45 L278.6 371.68 L281.6 372.9 L284.6 374.09 L287.6 375.27 L290.6 376.43 L293.6 377.57 L296.6 378.69 L299.6 379.76 L302.6 380.78 L305.6 381.76 L308.6 382.71 L311.6 383.65 L314.6 384.58 L317.6 385.49 L320.6 386.37 L323.6 387.23 L326.6 388.06 L329.6 388.89 L332.6 389.71 L335.6 390.51 L338.6 391.32 L341.6 392.14 L344.6 393 L347.6 393.86 L350.6 394.73 L353.6 395.58 L356.6 396.4 L359.6 397.18 L362.6 397.93 L365.6 398.66 L368.6 399.36 L371.6 400.06 L374.6 400.75 L377.6 401.44 L380.6 402.13 L383.6 402.81 L386.6 403.49 L389.6 404.15 L392.6 404.8 L395.6 405.42 L398.6 406.02 L401.6 406.61 L404.6 407.18 L407.6 407.74 L410.6 408.29 L413.6 408.84 L416.6 409.4 L419.6 409.95 L422.6 410.49 L425.6 411.03 L428.6 411.55 L431.6 412.07 L434.6 412.56 L437.6 413.05 L440.6 413.53 L443.6 414 L446.6 414.46 L449.6 414.91 L452.6 415.34 L455.6 415.77 L458.6 416.18 L461.6 416.58 L464.6 416.98 L467.6 417.37 L470.6 417.75 L473.6 418.13 L476.6 418.5 L479.6 418.86 L482.6 419.22 L485.6 419.6 L488.6 419.99 L491.6 420.4 L494.6 420.82 L497.6 421.25 L500.6 421.69 L503.6 422.14 L506.6 422.61 L509.6 423.09 L512.6 423.57 L515.6 424.04 L518.6 424.49 L521.6 424.92 L524.6 425.34 L527.6 425.74 L530.6 426.14 L533.6 426.53 L536.6 426.9 L539.6 427.27 L542.6 427.63 L545.6 427.97 L548.6 428.31 L551.6 428.63 L554.6 428.95 L557.6 429.27 L560.6 429.59 L563.6 429.92 L566.6 430.27 L569.6 430.63 L572.6 430.99 L575.6 431.35 L578.6 431.69 L581.6 432.02 L584.6 432.32 L587.6 432.59 L590.6 432.85 L593.6 433.1 L596.6 433.34 L599.6 433.58 L602.6 433.82 L605.6 434.07 L608.6 434.32 L611.6 434.59 L614.6 434.86 L617.6 435.12 L620.6 435.38 L623.6 435.63 L626.6 435.87 L629.6 436.1 L632.6 436.31 L635.6 436.52 L638.6 436.73 L641.6 436.93 L644.6 437.14 L647.6 437.37 L650.6 437.59 L653.6 437.83 L656.6 438.08 L659.6 438.32 L662.6 438.57 L665.6 438.82 L668.6 439.07 L671.6 439.31 L674.6 439.55 L677.6 439.78 L680.6 440 L683.6 440.22 L686.6 440.43 L689.6 440.64 L692.6 440.85 L695.6 441.05 L698.6 441.26 L701.6 441.45 L704.6 441.65 L707.6 441.85 L710.6 442.04 L713.6 442.23 L716.6 442.42 L719.6 442.61 L722.6 442.8 L725.6 442.99 L728.6 443.17 L731.6 443.36 L734.6 443.54 L737.6 443.72 L740.6 443.89 L743.6 444.07 L746.6 444.25 L749.6 444.42 L752.6 444.6 L755.6 444.77 L758.6 444.95 L761.6 445.13 L764.6 445.3 L767.6 445.48 L770.6 445.66 L773.6 445.85 L776.6 446.03 L779.6 446.21 L782.6 446.4 L785.6 446.58 L788.6 446.76 L791.6 446.94 L794.6 447.12 L797.6 447.29 L800.6 447.46 L803.6 447.63 L806.6 447.8 L809.6 447.96 L812.6 448.12 L815.6 448.27 L818.6 448.42 L821.6 448.57 L824.6 448.72 L827.6 448.87 L830.6 449.01 L832.3 449.09 L832.3 450.11 L831.1 450.05 L828.1 449.91 L825.1 449.77 L822.1 449.63 L819.1 449.48 L816.1 449.33 L813.1 449.18 L810.1 449.02 L807.1 448.86 L804.1 448.7 L801.1 448.53 L798.1 448.36 L795.1 448.19 L792.1 448.01 L789.1 447.83 L786.1 447.65 L783.1 447.47 L780.1 447.28 L777.1 447.1 L774.1 446.92 L771.1 446.73 L768.1 446.55 L765.1 446.37 L762.1 446.2 L759.1 446.02 L756.1 445.84 L753.1 445.67 L750.1 445.5 L747.1 445.32 L744.1 445.15 L741.1 444.97 L738.1 444.8 L735.1 444.62 L732.1 444.44 L729.1 444.26 L726.1 444.08 L723.1 443.89 L720.1 443.7 L717.1 443.52 L714.1 443.33 L711.1 443.14 L708.1 442.95 L705.1 442.75 L702.1 442.56 L699.1 442.36 L696.1 442.16 L693.1 441.96 L690.1 441.75 L687.1 441.55 L684.1 441.33 L681.1 441.12 L678.1 440.9 L675.1 440.67 L672.1 440.44 L669.1 440.2 L666.1 439.95 L663.1 439.7 L660.1 439.46 L657.1 439.21 L654.1 438.97 L651.1 438.73 L648.1 438.5 L645.1 438.28 L642.1 438.06 L639.1 437.85 L636.1 437.64 L633.1 437.43 L630.1 437.22 L627.1 437.01 L624.1 436.79 L621.1 436.56 L618.1 436.33 L615.1 436.1 L612.1 435.87 L609.1 435.64 L606.1 435.42 L603.1 435.21 L600.1 435.01 L597.1 434.81 L594.1 434.62 L591.1 434.42 L588.1 434.21 L585.1 433.99 L582.1 433.75 L579.1 433.48 L576.1 433.19 L573.1 432.89 L570.1 432.59 L567.1 432.29 L564.1 432 L561.1 431.73 L558.1 431.46 L555.1 431.2 L552.1 430.94 L549.1 430.68 L546.1 430.41 L543.1 430.13 L540.1 429.83 L537.1 429.53 L534.1 429.22 L531.1 428.9 L528.1 428.57 L525.1 428.23 L522.1 427.89 L519.1 427.54 L516.1 427.18 L513.1 426.81 L510.1 426.44 L507.1 426.05 L504.1 425.66 L501.1 425.25 L498.1 424.83 L495.1 424.37 L492.1 423.9 L489.1 423.46 L486.1 423.07 L483.1 422.72 L480.1 422.38 L477.1 422.06 L474.1 421.73 L471.1 421.4 L468.1 421.05 L465.1 420.69 L462.1 420.32 L459.1 419.96 L456.1 419.58 L453.1 419.19 L450.1 418.79 L447.1 418.38 L444.1 417.94 L441.1 417.5 L438.1 417.05 L435.1 416.6 L432.1 416.16 L429.1 415.71 L426.1 415.27 L423.1 414.82 L420.1 414.36 L417.1 413.9 L414.1 413.43 L411.1 412.95 L408.1 412.47 L405.1 411.97 L402.1 411.46 L399.1 410.95 L396.1 410.41 L393.1 409.85 L390.1 409.28 L387.1 408.68 L384.1 408.07 L381.1 407.45 L378.1 406.83 L375.1 406.2 L372.1 405.56 L369.1 404.91 L366.1 404.26 L363.1 403.6 L360.1 402.95 L357.1 402.3 L354.1 401.65 L351.1 401.01 L348.1 400.37 L345.1 399.72 L342.1 399.07 L339.1 398.4 L336.1 397.72 L333.1 397.02 L330.1 396.32 L327.1 395.62 L324.1 394.9 L321.1 394.17 L318.1 393.42 L315.1 392.65 L312.1 391.86 L309.1 391.06 L306.1 390.24 L303.1 389.4 L300.1 388.53 L297.1 387.63 L294.1 386.7 L291.1 385.75 L288.1 384.78 L285.1 383.77 L282.1 382.75 L279.1 381.76 L276.1 380.8 L273.1 379.85 L270.1 378.88 L267.1 377.89 L264.1 376.89 L261.1 375.88 L258.1 374.85 L255.1 373.81 L252.1 372.76 L249.1 371.67 L246.1 370.57 L243.1 369.44 L240.1 368.24 L237.1 366.92 L234.1 365.52 L231.1 364.13 L228.1 362.78 L225.1 361.44 L222.1 360.1 L219.1 358.73 L216.1 357.34 L213.1 355.96 L210.1 354.57 L207.1 353.19 L204.1 351.82 L201.1 350.49 L198.1 349.16 L195.1 347.78 L192.1 346.3 L189.1 344.77 L186.1 343.24 L183.1 341.8 L180.1 340.35 L177.1 338.73 L174.1 337.02 L171.1 335.36 L168.1 333.71 L165.1 332.01 L162.1 330.23 L159.1 328.33 L156.1 326.37 L153.1 324.42 L150.1 322.53 L147.1 320.69 L144.1 318.85 L141.1 316.96 L138.1 314.92 L135.1 312.9 L132.1 311.07 L129.1 309.52 L126.1 308.1 L123.1 306.84 L121.1 306.1 L120.22 305.9 L119.36 305.67 L118.49 305.44 L117.62 305.23 L116.72 305.08 L115.8 305 L114.84 304.98 L113.84 305 L112.82 305.07 L111.8 305.21 L110.78 305.41 L109.8 305.7 L108.82 306.08 L107.82 306.56 L106.83 307.1 L105.88 307.7 L105 308.34 L104.2 309 L103.52 309.67 L102.95 310.34 L102.44 311.06 L101.96 311.84 L101.46 312.72 L100.9 313.7 L100.27 314.83 L99.6 316.1 L98.92 317.45 L98.24 318.85 L97.59 320.25 L97 321.6 L96.47 322.91 L95.97 324.21 L95.51 325.52 L95.06 326.83 L94.63 328.15 L94.2 329.5 L93.77 330.88 L93.35 332.28 L92.94 333.7 L92.55 335.12 L92.17 336.52 L91.8 337.9 L91.45 339.25 L91.1 340.57 L90.78 341.88 L90.46 343.19 L90.17 344.49 L89.9 345.8 L89.66 347.12 L89.44 348.43 L89.24 349.75 L89.06 351.07 L88.88 352.38 L88.7 353.7 L88.52 355.02 L88.34 356.33 L88.16 357.65 L88 358.97 L87.84 360.28 L87.7 361.6 L87.58 362.89 L87.48 364.14 L87.39 365.39 L87.3 366.67 L87.21 368.03 L87.1 369.5 L86.98 371.1 L86.85 372.81 L86.71 374.59 L86.57 376.4 L86.44 378.22 L86.3 380 Z" fill="#fb3a42"/>
<path d="M86.3 262.1 L86.64 261.1 L86.96 260.05 L87.28 259 L87.62 258 L87.99 257.08 L88.4 256.3 L88.86 255.66 L89.35 255.14 L89.87 254.71 L90.42 254.34 L91 254.01 L91.6 253.7 L92.23 253.4 L92.89 253.14 L93.57 252.92 L94.29 252.75 L95.03 252.64 L95.8 252.6 L96.61 252.63 L97.46 252.73 L98.33 252.89 L99.22 253.1 L100.12 253.38 L101 253.7 L101.88 254.08 L102.76 254.52 L103.64 255.02 L104.53 255.57 L105.42 256.16 L106.3 256.8 L107.18 257.5 L108.07 258.27 L108.95 259.09 L109.83 259.94 L110.72 260.78 L111.6 261.6 L113.6 263.65 L116.6 266.74 L119.6 269.83 L122.6 272.92 L125.6 276 L128.6 279.07 L131.6 282.11 L134.6 285.13 L137.6 288.11 L140.6 291.05 L143.6 293.94 L146.6 296.77 L149.6 299.56 L152.6 302.28 L155.6 304.95 L158.6 307.55 L161.6 310.09 L164.6 312.56 L167.6 314.97 L170.6 317.3 L173.6 319.57 L176.6 321.76 L179.6 323.9 L182.6 325.98 L185.6 328.01 L188.6 329.99 L191.6 331.94 L194.6 333.85 L197.6 335.74 L200.6 337.6 L203.6 339.43 L206.6 341.23 L209.6 343 L212.6 344.75 L215.6 346.46 L218.6 348.14 L221.6 349.79 L224.6 351.41 L227.6 353 L230.6 354.56 L233.6 356.09 L236.6 357.58 L239.6 359.05 L242.6 360.49 L245.6 361.9 L248.6 363.28 L251.6 364.64 L254.6 365.97 L257.6 367.27 L260.6 368.55 L263.6 369.8 L266.6 371.03 L269.6 372.24 L272.6 373.42 L275.6 374.57 L278.6 375.71 L281.6 376.82 L284.6 377.91 L287.6 378.98 L290.6 380.03 L293.6 381.06 L296.6 382.07 L299.6 383.07 L302.6 384.04 L305.6 385 L308.6 385.93 L311.6 386.86 L314.6 387.76 L317.6 388.65 L320.6 389.53 L323.6 390.39 L326.6 391.23 L329.6 392.06 L332.6 392.88 L335.6 393.69 L338.6 394.48 L341.6 395.26 L344.6 396.03 L347.6 396.79 L350.6 397.54 L353.6 398.27 L356.6 398.99 L359.6 399.7 L362.6 400.4 L365.6 401.09 L368.6 401.77 L371.6 402.43 L374.6 403.09 L377.6 403.74 L380.6 404.37 L383.6 405 L386.6 405.62 L389.6 406.23 L392.6 406.83 L395.6 407.42 L398.6 408" fill="none" stroke="#000" stroke-width="1.9" stroke-linejoin="round"/>
<path d="M398.6 408 L401.6 408.57 L404.6 409.14 L407.6 409.69 L410.6 410.24 L413.6 410.78 L416.6 411.32 L419.6 411.84 L422.6 412.36 L425.6 412.87 L428.6 413.38 L431.6 413.88 L434.6 414.37 L437.6 414.86 L440.6 415.34 L443.6 415.81 L446.6 416.28 L449.6 416.74 L452.6 417.2 L455.6 417.65 L458.6 418.09" fill="none" stroke="#000" stroke-width="1.7" stroke-linejoin="round"/>
<path d="M458.6 418.09 L461.6 418.53 L464.6 418.96 L467.6 419.39 L470.6 419.82 L473.6 420.23 L476.6 420.65 L479.6 421.06 L482.6 421.46 L485.6 421.86 L488.6 422.25 L491.6 422.64 L494.6 423.02 L497.6 423.4 L500.6 423.78 L503.6 424.15 L506.6 424.51 L509.6 424.88 L512.6 425.23 L515.6 425.59 L518.6 425.94" fill="none" stroke="#000" stroke-width="1.5" stroke-linejoin="round"/>
<path d="M518.6 425.94 L521.6 426.29 L524.6 426.63 L527.6 426.97 L530.6 427.3 L533.6 427.63 L536.6 427.96 L539.6 428.29 L542.6 428.61 L545.6 428.93 L548.6 429.24 L551.6 429.56 L554.6 429.87 L557.6 430.17 L560.6 430.48 L563.6 430.78 L566.6 431.08 L569.6 431.37 L572.6 431.66 L575.6 431.95 L578.6 432.24 L581.6 432.52 L584.6 432.8 L587.6 433.08" fill="none" stroke="#000" stroke-width="1.25" stroke-linejoin="round"/>
<path d="M587.6 433.08 L590.6 433.35 L593.6 433.63 L596.6 433.9 L599.6 434.16 L602.6 434.43 L605.6 434.69 L608.6 434.95 L611.6 435.21 L614.6 435.46 L617.6 435.72 L620.6 435.97 L623.6 436.22 L626.6 436.46 L629.6 436.7 L632.6 436.95 L635.6 437.18 L638.6 437.42 L641.6 437.66 L644.6 437.89 L647.6 438.12 L650.6 438.35 L653.6 438.57 L656.6 438.8 L659.6 439.02 L662.6 439.24 L665.6 439.46 L668.6 439.68 L671.6 439.89 L674.6 440.1 L677.6 440.32 L680.6 440.53 L683.6 440.73 L686.6 440.94 L689.6 441.14 L692.6 441.35 L695.6 441.55 L698.6 441.75 L701.6 441.95 L704.6 442.14 L707.6 442.34 L710.6 442.53 L713.6 442.73 L716.6 442.92 L719.6 443.11 L722.6 443.3 L725.6 443.48 L728.6 443.67 L731.6 443.86 L734.6 444.04 L737.6 444.22 L740.6 444.41 L743.6 444.59 L746.6 444.77 L749.6 444.94 L752.6 445.12 L755.6 445.3 L758.6 445.47 L761.6 445.65 L764.6 445.82 L767.6 446 L770.6 446.17 L773.6 446.34 L776.6 446.51 L779.6 446.68 L782.6 446.85 L785.6 447.02 L788.6 447.19 L791.6 447.36 L794.6 447.53 L797.6 447.69 L800.6 447.86 L803.6 448.03 L806.6 448.19 L809.6 448.36 L812.6 448.52 L815.6 448.69 L818.6 448.85 L821.6 449.02 L824.6 449.18 L827.6 449.34 L830.6 449.51 L831.8 449.57" fill="none" stroke="#000" stroke-width="1.0" stroke-linejoin="round"/>
<path d="M105.9 256.7 L106.8 255.3" fill="none" stroke="#000" stroke-width="1.3"/>
<path d="M86.3 262.57 L88.16 267.53 L90.03 272.28 L91.89 276.83 L93.76 281.2 L95.62 285.39 L97.49 289.42 L99.35 293.3 L101.22 297.03 L103.08 300.63 L104.95 304.09 L106.81 307.44 L108.68 310.66 L110.55 313.78 L112.41 316.79 L114.28 319.7 L116.14 322.52 L118 325.24 L119.87 327.88 L121.73 330.44 L123.6 332.92 L125.47 335.33 L127.33 337.66 L129.19 339.93 L131.06 342.13 L132.93 344.27 L134.79 346.35 L136.66 348.37 L138.52 350.33 L140.38 352.25 L142.25 354.11 L144.12 355.92 L145.98 357.69 L147.84 359.41 L149.71 361.09 L151.57 362.73 L153.44 364.32 L155.31 365.88 L157.17 367.4 L159.03 368.89 L160.9 370.33 L168.36 375.81 L175.82 380.82 L183.28 385.41 L190.74 389.64 L198.2 393.55 L205.66 397.18 L213.12 400.55 L220.58 403.69 L228.04 406.62 L235.5 409.37 L242.96 411.95 L250.42 414.37 L257.88 416.65 L265.34 418.8 L272.8 420.84 L280.26 422.76 L287.72 424.59 L295.18 426.32 L302.64 427.96 L310.1 429.53 L317.56 431.02 L325.02 432.45 L332.48 433.81 L339.94 435.1 L347.4 436.35 L354.86 437.54 L362.32 438.68 L369.78 439.78 L377.24 440.83 L384.7 441.84 L392.16 442.81 L399.62 443.75 L407.08 444.65 L414.54 445.52 L422 446.36 L429.46 447.16 L436.92 447.95 L444.38 448.7 L451.84 449.43 L459.3 450.14 L466.76 450.82 L474.22 451.48 L481.68 452.12 L489.14 452.74 L496.6 453.35 L504.06 453.93 L511.52 454.5 L518.98 455.05 L526.44 455.59 L533.9 456.11 L541.36 456.61 L548.82 457.11 L556.28 457.59 L563.74 458.05 L571.2 458.51 L578.66 458.95 L586.12 459.38 L593.58 459.8 L601.04 460.21 L608.5 460.61 L615.96 461 L623.42 461.38 L630.88 461.75 L638.34 462.12 L645.8 462.47 L653.26 462.82 L660.72 463.16 L668.18 463.49 L675.64 463.81 L683.1 464.13 L690.56 464.44 L698.02 464.74 L705.48 465.04 L712.94 465.33 L720.4 465.61 L727.86 465.89 L735.32 466.17 L742.78 466.43 L750.24 466.7 L757.7 466.95 L765.16 467.2 L772.62 467.45 L780.08 467.69 L787.54 467.93 L795 468.17 L802.46 468.39 L809.92 468.62 L817.38 468.84 L824.84 469.06 L832.3 469.27" fill="none" stroke="#111" stroke-width="1.75" stroke-dasharray="2.1 6.1" stroke-dashoffset="0.8"/>
<path d="M86.3 262.57 L88.16 267.02 L90.03 271.29 L91.89 275.41 L93.76 279.38 L95.62 283.2 L97.49 286.89 L99.35 290.45 L101.22 293.89 L103.08 297.22 L104.95 300.43 L106.81 303.54 L108.68 306.56 L110.55 309.48 L112.41 312.3 L114.28 315.05 L116.14 317.71 L118 320.29 L119.87 322.8 L121.73 325.23 L123.6 327.6 L125.47 329.9 L127.33 332.13 L129.19 334.31 L131.06 336.43 L132.93 338.49 L134.79 340.5 L136.66 342.46 L138.52 344.36 L140.38 346.22 L142.25 348.04 L144.12 349.81 L145.98 351.53 L147.84 353.22 L149.71 354.86 L151.57 356.47 L153.44 358.04 L155.31 359.57 L157.17 361.07 L159.03 362.54 L160.9 363.97 L168.36 369.41 L175.82 374.4 L183.28 379.01 L190.74 383.27 L198.2 387.22 L205.66 390.9 L213.12 394.32 L220.58 397.53 L228.04 400.53 L235.5 403.35 L242.96 406.01 L250.42 408.51 L257.88 410.87 L265.34 413.1 L272.8 415.21 L280.26 417.21 L287.72 419.12 L295.18 420.93 L302.64 422.65 L310.1 424.29 L317.56 425.86 L325.02 427.35 L332.48 428.78 L339.94 430.15 L347.4 431.47 L354.86 432.72 L362.32 433.93 L369.78 435.09 L377.24 436.21 L384.7 437.28 L392.16 438.31 L399.62 439.31 L407.08 440.27 L414.54 441.19 L422 442.09 L429.46 442.95 L436.92 443.78 L444.38 444.59 L451.84 445.37 L459.3 446.13 L466.76 446.86 L474.22 447.57 L481.68 448.26 L489.14 448.92 L496.6 449.57 L504.06 450.2 L511.52 450.81 L518.98 451.4 L526.44 451.98 L533.9 452.54 L541.36 453.09 L548.82 453.62 L556.28 454.13 L563.74 454.64 L571.2 455.13 L578.66 455.61 L586.12 456.07 L593.58 456.53 L601.04 456.97 L608.5 457.4 L615.96 457.82 L623.42 458.24 L630.88 458.64 L638.34 459.03 L645.8 459.42 L653.26 459.79 L660.72 460.16 L668.18 460.52 L675.64 460.87 L683.1 461.22 L690.56 461.55 L698.02 461.88 L705.48 462.2 L712.94 462.52 L720.4 462.83 L727.86 463.13 L735.32 463.43 L742.78 463.72 L750.24 464.01 L757.7 464.29 L765.16 464.56 L772.62 464.83 L780.08 465.09 L787.54 465.35 L795 465.61 L802.46 465.86 L809.92 466.1 L817.38 466.34 L824.84 466.58 L832.3 466.81" fill="none" stroke="#2a48ff" stroke-width="1.8" stroke-dasharray="11.1 7.6" stroke-dashoffset="0.2"/>
<path d="M104.88 302.74 V342.1 M100.68 302.74 H109.08 M100.68 342.1 H109.08 M101.22 322.42 H108.68 M101.22 318.22 V326.62 M108.68 318.22 V326.62 M112.34 319.2 V353.26 M108.14 319.2 H116.54 M108.14 353.26 H116.54 M108.68 336.23 H116.14 M108.68 332.03 V340.43 M116.14 332.03 V340.43 M119.8 334.39 V361.09 M115.6 334.39 H124 M115.6 361.09 H124 M116.14 347.74 H123.6 M116.14 343.54 V351.94 M123.6 343.54 V351.94 M127.26 352.57 V378.12 M123.06 352.57 H131.46 M123.06 378.12 H131.46 M123.6 365.35 H131.06 M123.6 361.15 V369.55 M131.06 361.15 V369.55 M138 353.03 V373.29 M133.8 353.03 H142.2 M133.8 373.29 H142.2 M131.06 363.16 H145.98 M131.06 358.96 V367.36 M145.98 358.96 V367.36 M153.22 368.46 V391.93 M149.02 368.46 H157.42 M149.02 391.93 H157.42 M145.98 380.19 H160.9 M145.98 375.99 V384.39 M160.9 375.99 V384.39 M167.91 393.08 V415.64 M163.71 393.08 H172.11 M163.71 415.64 H172.11 M160.9 404.36 H175.82 M160.9 400.16 V408.56 M175.82 400.16 V408.56 M186.41 391.01 V413.11 M182.21 391.01 H190.61 M182.21 413.11 H190.61 M175.82 402.06 H198.2 M175.82 397.86 V406.26 M198.2 397.86 V406.26 M215.36 395.62 V413.11 M211.16 395.62 H219.56 M211.16 413.11 H219.56 M198.2 404.36 H235.5 M198.2 400.16 V408.56 M235.5 400.16 V408.56 M269.52 423.7 V442.57 M265.32 423.7 H273.72 M265.32 442.57 H273.72 M235.5 433.13 H310.1 M235.5 428.93 V437.33 M310.1 428.93 V437.33 M374.7 434.75 V457.76 M370.5 434.75 H378.9 M370.5 457.76 H378.9 M310.1 446.25 H459.3 M310.1 442.05 V450.45 M459.3 442.05 V450.45" fill="none" stroke="#000" stroke-width="1.6"/>
<circle cx="104.88" cy="322.42" r="5.2" fill="#000"/>
<circle cx="112.34" cy="336.23" r="5.2" fill="#000"/>
<circle cx="119.8" cy="347.74" r="5.2" fill="#000"/>
<circle cx="127.26" cy="365.35" r="5.2" fill="#000"/>
<circle cx="138" cy="363.16" r="5.2" fill="#000"/>
<circle cx="153.22" cy="380.19" r="5.2" fill="#000"/>
<circle cx="167.91" cy="404.36" r="5.2" fill="#000"/>
<circle cx="186.41" cy="402.06" r="5.2" fill="#000"/>
<circle cx="215.36" cy="404.36" r="5.2" fill="#000"/>
<circle cx="269.52" cy="433.13" r="5.2" fill="#000"/>
<circle cx="374.7" cy="446.25" r="5.2" fill="#000"/>
<path d="M86.3 492.75 v-8.4 M86.3 32.4 v8.4 M123.6 492.75 v-5 M123.6 32.4 v5 M160.9 492.75 v-5 M160.9 32.4 v5 M198.2 492.75 v-5 M198.2 32.4 v5 M235.5 492.75 v-8.4 M235.5 32.4 v8.4 M272.8 492.75 v-5 M272.8 32.4 v5 M310.1 492.75 v-5 M310.1 32.4 v5 M347.4 492.75 v-5 M347.4 32.4 v5 M384.7 492.75 v-8.4 M384.7 32.4 v8.4 M422 492.75 v-5 M422 32.4 v5 M459.3 492.75 v-5 M459.3 32.4 v5 M496.6 492.75 v-5 M496.6 32.4 v5 M533.9 492.75 v-8.4 M533.9 32.4 v8.4 M571.2 492.75 v-5 M571.2 32.4 v5 M608.5 492.75 v-5 M608.5 32.4 v5 M645.8 492.75 v-5 M645.8 32.4 v5 M683.1 492.75 v-8.4 M683.1 32.4 v8.4 M720.4 492.75 v-5 M720.4 32.4 v5 M757.7 492.75 v-5 M757.7 32.4 v5 M795 492.75 v-5 M795 32.4 v5 M832.3 492.75 v-8.4 M832.3 32.4 v8.4 M86.3 492.75 h8.4 M832.3 492.75 h-8.4 M86.3 469.73 h5 M832.3 469.73 h-5 M86.3 446.71 h5 M832.3 446.71 h-5 M86.3 423.7 h5 M832.3 423.7 h-5 M86.3 400.68 h5 M832.3 400.68 h-5 M86.3 377.66 h8.4 M832.3 377.66 h-8.4 M86.3 354.64 h5 M832.3 354.64 h-5 M86.3 331.63 h5 M832.3 331.63 h-5 M86.3 308.61 h5 M832.3 308.61 h-5 M86.3 285.59 h5 M832.3 285.59 h-5 M86.3 262.57 h8.4 M832.3 262.57 h-8.4 M86.3 239.56 h5 M832.3 239.56 h-5 M86.3 216.54 h5 M832.3 216.54 h-5 M86.3 193.52 h5 M832.3 193.52 h-5 M86.3 170.5 h5 M832.3 170.5 h-5 M86.3 147.49 h8.4 M832.3 147.49 h-8.4 M86.3 124.47 h5 M832.3 124.47 h-5 M86.3 101.45 h5 M832.3 101.45 h-5 M86.3 78.43 h5 M832.3 78.43 h-5 M86.3 55.42 h5 M832.3 55.42 h-5 M86.3 32.4 h8.4 M832.3 32.4 h-8.4" fill="none" stroke="#111" stroke-width="1.65"/>
<rect x="86.3" y="32.4" width="746" height="460.35" fill="none" stroke="#111" stroke-width="1.75"/>
<g font-family="'Liberation Sans', Arial, sans-serif" font-size="24" fill="#000" stroke="#000" stroke-width="0.4">
<text x="85.7" y="518.8" text-anchor="middle">0</text>
<text x="234.1" y="518.8" text-anchor="middle">20</text>
<text x="383.3" y="518.8" text-anchor="middle">40</text>
<text x="532.5" y="518.8" text-anchor="middle">60</text>
<text x="681.7" y="518.8" text-anchor="middle">80</text>
<text x="830.9" y="518.8" text-anchor="middle">100</text>
<text x="79.9" y="499.75" text-anchor="end">0.0</text>
<text x="79.9" y="384.66" text-anchor="end">0.5</text>
<text x="79.9" y="269.57" text-anchor="end">1.0</text>
<text x="79.9" y="155.09" text-anchor="end">1.5</text>
<text x="79.9" y="39.4" text-anchor="end">2.0</text>
</g>
<rect x="811.48" y="515.9" width="5.5" height="4.8" fill="#fff"/>
<rect x="819.53" y="515.9" width="4.6" height="4.8" fill="#fff"/>
<rect x="47.14" y="266.68" width="5.5" height="4.8" fill="#fff"/>
<rect x="55.19" y="266.68" width="4.6" height="4.8" fill="#fff"/>
<rect x="47.14" y="152.19" width="5.5" height="4.8" fill="#fff"/>
<rect x="55.19" y="152.19" width="4.6" height="4.8" fill="#fff"/>
<g font-family="'Liberation Sans', Arial, sans-serif" font-size="21.7" fill="#000" stroke="#000" stroke-width="0.4">
<text x="458.5" y="560.3" text-anchor="middle"><tspan font-style="italic">Q</tspan><tspan font-size="14.5" dy="-10.3">2</tspan><tspan dy="10.3">(GeV</tspan><tspan font-size="14.5" dy="-10.3">2</tspan><tspan dy="10.3">)</tspan></text>
<text transform="translate(30.3 263.7) rotate(-90)" text-anchor="middle">|F(Q<tspan font-size="14.5" dy="-10.3">2</tspan><tspan dy="10.3">)/F(0)|</tspan></text>
</g>
</g>
</svg>
</body>
</html>
